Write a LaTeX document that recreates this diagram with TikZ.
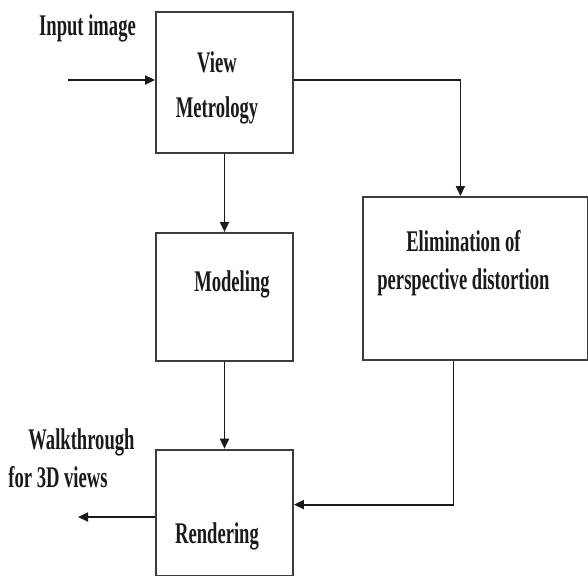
\documentclass[tikz,border=0pt]{standalone}
\usepackage{fontspec}
\setmainfont{Liberation Serif}[FakeStretch=0.62]
\usetikzlibrary{arrows.meta,positioning}
\definecolor{ink}{HTML}{1A1A1A}
\tikzset{
  >={Triangle[length=5pt,width=4.5pt]},
  every node/.style={font=\bfseries\fontsize{15}{19}\selectfont,text=ink},
  block/.style={draw=ink!85,line width=0.9pt,minimum width=68.5pt,inner sep=0pt},
  txt/.style={align=center,inner sep=0pt},
  arrow/.style={->,line width=0.9pt,draw=ink},
}

\begin{document}
\begin{tikzpicture}[x=0.5pt,y=-0.5pt]
\useasboundingbox (0,0) rectangle (588,575);

\node[block,minimum height=70.5pt] (view) at (224.5,82.5) {};
\node[block,minimum height=64pt,below=39pt of view] (model) {};
\node[block,minimum height=63pt,below=43.5pt of model] (render) {};
\node[block,minimum width=112.5pt,minimum height=81.5pt,anchor=north west] (elim) at (362,196) {};

\node[txt] (viewtxt) at ([xshift=-3.75pt,yshift=-2.75pt]view.center) {View\\[3.5pt]Metrology};
\node[txt] (modeltxt) at ([xshift=3.75pt,yshift=6pt]model.center) {Modeling};
\node[txt] (rendertxt) at ([xshift=-3.75pt,yshift=-12pt]render.center) {Rendering};
\node[txt] (elimtxt) at ([xshift=-6pt,yshift=7.75pt]elim.center) {Elimination of\\perspective distortion};

\node[txt] (input) at (87.5,28) {Input image};
\node[txt,align=left,anchor=west] (walk) at (8,458) {\hspace*{10pt}Walkthrough\\for 3D views};

\coordinate (in) at (68,80);
\coordinate (out) at (78,517);

\draw[arrow] (in) -- (in -| view.west);
\draw[arrow] (in -| view.east) -| ([xshift=-7.5pt]elim.north);
\draw[arrow] (view.south) -- (model.north);
\draw[arrow] (model.south) -- (render.north);
\draw[arrow] ([xshift=-11pt]elim.south) |- ([yshift=4pt]render.east);
\draw[arrow] (render.west |- out) -- (out);

\end{tikzpicture}
\end{document}
